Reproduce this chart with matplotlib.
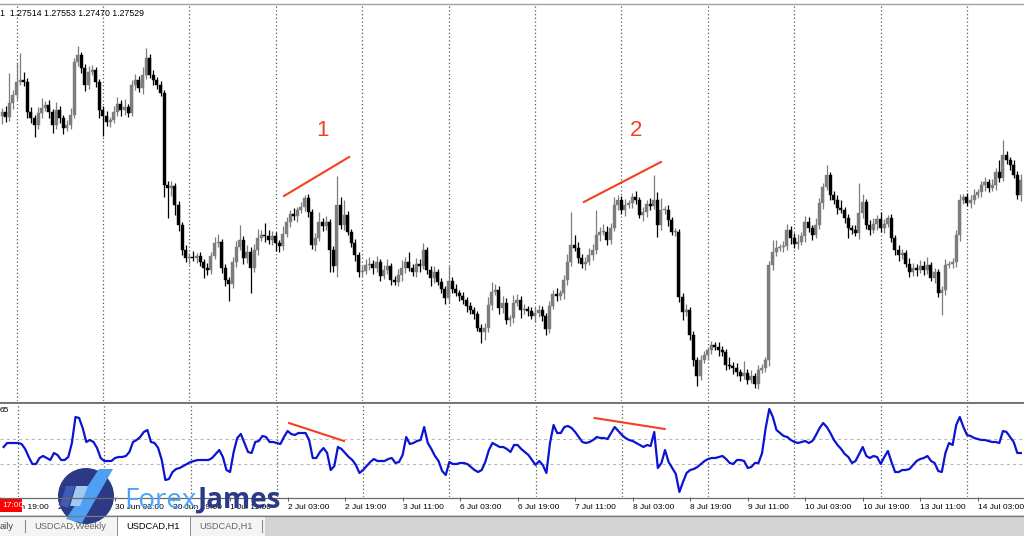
import numpy as np
import matplotlib
matplotlib.use("Agg")
import matplotlib.pyplot as plt
from matplotlib.patches import Circle, Polygon, Rectangle

W, H = 1024, 536
FIRST_BAR = -4          # bar 0 = 29 Jun 00:00, one bar per hour, no weekend bars
BASE = 1.2400           # prices are kept as pips above BASE

# ---- USDCAD H1 closes (pips above 1.2400), bar -4 .. 279
close_pips = [
    288, 283, 297, 305, 318, 320, 318, 288, 282, 275,
    287, 292, 295, 288, 275, 290, 282, 272, 275, 285,
    338, 345, 332, 315, 328, 330, 318, 290, 284, 278,
    280, 288, 296, 290, 293, 287, 315, 320, 312, 325,
    342, 325, 320, 315, 307, 215, 212, 214, 195, 175,
    150, 142, 143, 142, 144, 138, 132, 130, 144, 157,
    158, 132, 120, 116, 138, 153, 160, 142, 148, 132,
    150, 162, 165, 164, 160, 164, 157, 154, 166, 178,
    186, 184, 190, 193, 202, 188, 155, 162, 178, 174,
    178, 150, 134, 195, 175, 185, 168, 157, 145, 128,
    129, 135, 136, 132, 138, 124, 130, 134, 120, 118,
    125, 132, 138, 132, 128, 136, 134, 150, 130, 122,
    128, 118, 111, 102, 119, 111, 107, 104, 100, 94,
    90, 86, 72, 68, 72, 95, 108, 110, 92, 97,
    80, 82, 97, 100, 90, 91, 89, 84, 87, 90,
    84, 71, 94, 106, 104, 107, 120, 138, 155, 152,
    142, 136, 138, 145, 150, 165, 168, 168, 160, 172,
    195, 200, 190, 195, 197, 203, 200, 185, 188, 196,
    194, 200, 175, 190, 190, 180, 168, 168, 103, 88,
    90, 65, 40, 24, 40, 45, 50, 55, 53, 50,
    48, 35, 34, 32, 28, 24, 27, 20, 24, 16,
    30, 32, 40, 135, 148, 152, 153, 154, 170, 162,
    156, 158, 164, 178, 172, 165, 175, 197, 213, 225,
    205, 200, 192, 190, 182, 172, 170, 167, 187, 198,
    175, 170, 176, 181, 172, 176, 182, 162, 150, 145,
    147, 136, 128, 132, 130, 134, 130, 135, 122, 128,
    107, 110, 135, 136, 138, 165, 200, 203, 197, 200,
    205, 208, 215, 218, 212, 215, 228, 222, 245, 240,
    235, 225, 205, 220,
]
first_open_pips = 284

# wick length above / below the body, pips
wick_up = [
    4, 6, 30, 5, 19, 27, 8, 4, 5, 3,
    6, 10, 4, 5, 3, 8, 4, 3, 5, 7,
    4, 9, 3, 4, 6, 5, 3, 3, 4, 5,
    3, 6, 7, 4, 8, 3, 5, 6, 4, 8,
    10, 4, 5, 3, 4, 3, 4, 5, 3, 4,
    3, 5, 4, 6, 3, 4, 3, 5, 4, 6,
    8, 3, 4, 3, 5, 6, 15, 4, 7, 5,
    6, 9, 5, 12, 6, 5, 4, 3, 8, 5,
    4, 6, 3, 5, 3, 4, 3, 5, 10, 4,
    6, 3, 4, 29, 8, 15, 4, 3, 4, 3,
    5, 6, 7, 4, 6, 3, 5, 7, 3, 4,
    6, 8, 5, 10, 4, 6, 5, 7, 3, 4,
    6, 3, 4, 3, 15, 4, 5, 3, 4, 3,
    4, 3, 3, 4, 5, 8, 10, 6, 4, 7,
    5, 3, 8, 6, 4, 5, 3, 4, 6, 5,
    4, 3, 5, 4, 6, 3, 5, 8, 33, 10,
    6, 4, 5, 7, 6, 25, 5, 8, 6, 5,
    8, 5, 4, 6, 3, 4, 6, 3, 5, 4,
    6, 25, 8, 12, 4, 5, 3, 4, 3, 4,
    6, 3, 4, 3, 5, 4, 3, 4, 3, 5,
    4, 3, 8, 4, 5, 3, 12, 4, 6, 3,
    5, 4, 3, 4, 12, 8, 3, 5, 6, 4,
    5, 8, 4, 6, 5, 3, 7, 5, 4, 10,
    3, 4, 5, 8, 3, 4, 3, 5, 30, 8,
    3, 5, 6, 4, 7, 5, 3, 4, 3, 5,
    4, 3, 6, 5, 4, 6, 5, 8, 3, 4,
    3, 4, 6, 3, 4, 5, 6, 3, 4, 5,
    6, 3, 4, 5, 3, 6, 4, 12, 15, 4,
    3, 5, 4, 6,
]
wick_dn = [
    8, 5, 4, 6, 5, 3, 4, 6, 5, 12,
    4, 5, 3, 6, 8, 4, 5, 6, 3, 4,
    3, 4, 5, 6, 4, 3, 5, 8, 20, 4,
    5, 3, 4, 6, 5, 4, 3, 5, 4, 6,
    4, 3, 5, 4, 3, 12, 30, 8, 10, 6,
    5, 4, 6, 3, 5, 4, 10, 5, 4, 3,
    4, 5, 6, 17, 4, 5, 3, 6, 5, 25,
    4, 5, 3, 6, 4, 5, 8, 6, 4, 3,
    5, 4, 6, 3, 4, 5, 4, 6, 3, 5,
    4, 22, 6, 11, 4, 5, 3, 4, 6, 5,
    4, 3, 5, 6, 4, 5, 3, 4, 5, 3,
    4, 6, 5, 3, 4, 5, 6, 3, 4, 8,
    5, 3, 4, 6, 5, 4, 3, 5, 4, 6,
    4, 5, 3, 11, 8, 4, 5, 3, 6, 5,
    4, 6, 5, 3, 8, 4, 5, 3, 6, 4,
    5, 6, 4, 3, 5, 4, 6, 5, 4, 3,
    5, 4, 6, 3, 5, 4, 6, 3, 5, 4,
    3, 5, 4, 6, 3, 5, 4, 3, 6, 5,
    4, 3, 12, 5, 4, 6, 3, 4, 5, 8,
    4, 5, 6, 10, 4, 3, 5, 4, 3, 6,
    4, 5, 3, 6, 4, 5, 3, 4, 3, 4,
    5, 3, 4, 6, 5, 4, 3, 5, 4, 6,
    4, 5, 3, 6, 4, 5, 3, 4, 6, 3,
    5, 4, 6, 3, 5, 10, 4, 3, 6, 5,
    4, 5, 3, 6, 4, 5, 3, 4, 5, 6,
    4, 3, 5, 4, 6, 3, 5, 4, 3, 5,
    4, 22, 5, 3, 4, 5, 6, 4, 3, 5,
    4, 3, 5, 6, 4, 3, 5, 4, 3, 4,
    5, 3, 4, 6,
]

# ---- oscillator in the lower window
osc = [
    53.6, 56.8, 56.8, 56.8, 56.8, 56.0, 52.0, 45.6, 40.0, 40.0,
    44.8, 46.4, 44.8, 43.2, 48.8, 47.2, 43.2, 43.2, 45.6, 56.8,
    77.6, 76.8, 68.8, 57.6, 59.2, 57.6, 52.8, 44.8, 42.4, 42.4,
    42.4, 44.8, 45.6, 45.6, 46.4, 49.6, 57.6, 59.2, 61.6, 65.6,
    67.2, 57.6, 56.8, 52.8, 43.2, 27.2, 28.0, 33.6, 36.0, 36.8,
    38.4, 40.0, 41.6, 42.4, 43.2, 43.2, 43.2, 43.2, 44.8, 48.0,
    51.2, 45.6, 35.2, 33.6, 49.6, 60.8, 64.0, 56.8, 49.6, 48.8,
    57.6, 58.4, 62.4, 61.6, 57.6, 57.6, 56.8, 56.0, 61.6, 66.4,
    64.0, 63.2, 64.8, 64.8, 64.8, 59.2, 44.8, 44.8, 49.6, 52.8,
    48.8, 35.2, 38.4, 53.6, 52.0, 48.8, 45.6, 43.2, 39.2, 32.8,
    35.2, 38.4, 41.6, 44.0, 42.4, 42.4, 42.4, 44.0, 44.8, 40.8,
    41.6, 47.2, 61.6, 56.0, 56.8, 58.4, 59.2, 69.6, 56.8, 52.0,
    46.4, 42.4, 34.4, 31.2, 41.6, 40.0, 40.0, 40.8, 40.8, 40.0,
    37.6, 35.2, 33.6, 35.2, 41.6, 51.2, 56.8, 55.2, 53.6, 53.6,
    52.0, 49.6, 55.2, 55.2, 52.0, 49.6, 47.2, 43.2, 39.2, 42.4,
    39.2, 32.8, 56.8, 71.2, 64.8, 64.8, 69.6, 70.4, 68.8, 65.6,
    61.6, 57.6, 56.8, 57.6, 59.2, 61.6, 60.8, 60.8, 60.0, 64.8,
    69.6, 66.4, 63.2, 60.8, 59.2, 58.4, 56.8, 55.2, 53.6, 55.2,
    54.4, 65.6, 36.8, 40.8, 51.2, 41.6, 36.8, 32.0, 17.6, 25.6,
    32.8, 35.2, 36.0, 37.6, 40.0, 42.4, 44.0, 44.8, 44.8, 45.6,
    46.4, 44.0, 40.8, 40.0, 43.2, 43.2, 42.4, 36.8, 37.6, 40.8,
    40.8, 48.8, 68.8, 84.0, 77.6, 67.2, 64.8, 62.4, 61.6, 59.2,
    57.6, 56.8, 57.6, 58.4, 56.8, 58.4, 63.2, 68.8, 72.8, 69.6,
    64.8, 59.2, 55.2, 52.0, 48.0, 45.6, 40.8, 42.4, 48.0, 53.6,
    46.4, 44.8, 46.4, 45.6, 40.0, 45.6, 50.4, 41.6, 33.6, 33.6,
    35.2, 35.2, 36.0, 39.2, 42.4, 44.0, 44.8, 46.4, 42.4, 40.8,
    34.4, 33.6, 48.8, 56.8, 55.2, 71.2, 77.6, 69.6, 63.2, 62.4,
    60.8, 60.0, 59.2, 59.2, 58.4, 57.6, 57.6, 56.8, 66.4, 65.6,
    61.6, 57.6, 48.8, 48.8,
]
osc_levels = [60, 40]

# time axis
tick_bars = [-5, 11, 27, 43, 59, 75, 91, 107, 123, 139, 155, 171, 187, 203, 219, 235, 251, 267]
tick_labels = ["26 Jun 19:00", "29 Jun 11:00", "30 Jun 03:00", "30 Jun 19:00", "1 Jul 11:00",
               "2 Jul 03:00", "2 Jul 19:00", "3 Jul 11:00", "6 Jul 03:00", "6 Jul 19:00",
               "7 Jul 11:00", "8 Jul 03:00", "8 Jul 19:00", "9 Jul 11:00", "10 Jul 03:00",
               "10 Jul 19:00", "13 Jul 11:00", "14 Jul 03:00"]
day_bars = [0, 24, 48, 72, 96, 120, 144, 168, 192, 216, 240, 264]

# divergence marks: (bar, pips) pairs on price, (bar, value) on oscillator
price_marks = [((74.3, 204), (92.4, 243), "1", (84.9, 270)),
               ((157.6, 198), (179.0, 238), "2", (172.1, 269))]
osc_marks = [((75.4, 72.8), (90.7, 58.4)),
             ((160.4, 76.8), (179.9, 68.0))]

ohlc_text = "1  1.27514 1.27553 1.27470 1.27529"
tabs = ["aily", "USDCAD,Weekly", "USDCAD,H1", "USDCAD,H1"]

RED = "#f5401f"
BLUE = "#0a14d2"
GRID = "#555555"


def px_rect(left, top, w, h):
    return [left / W, 1 - (top + h) / H, w / W, h / H]


closes = BASE + np.array(close_pips) * 1e-4
opens = BASE + np.r_[first_open_pips, close_pips[:-1]] * 1e-4
highs = np.maximum(opens, closes) + np.array(wick_up) * 1e-4
lows = np.minimum(opens, closes) - np.array(wick_dn) * 1e-4
bars = np.arange(FIRST_BAR, FIRST_BAR + len(close_pips))
xlim = (-16.5 / 3.6, (W - 16.5) / 3.6)

fig = plt.figure(figsize=(W / 100, H / 100), dpi=100)
fig.patch.set_facecolor("white")

# ---- price window
ax = fig.add_axes(px_rect(0, 5, W, 396))
ax.set_xlim(*xlim)
ax.set_ylim(BASE - 0.0001, BASE + 0.0395)
bull = closes >= opens
for mask, col in [(bull, "#7d7d7d"), (~bull, "#000000")]:
    ax.vlines(bars[mask], lows[mask], highs[mask], color=col, lw=0.9, zorder=3)
    body = np.maximum(np.abs(closes - opens)[mask], 0.0001)
    ax.bar(bars[mask], body, bottom=np.minimum(opens, closes)[mask], width=0.78,
           color=col, edgecolor=col, linewidth=0.3, zorder=4)
for b in day_bars:
    ax.axvline(b, color=GRID, lw=0.9, ls=(0, (1, 2)), zorder=1)
for p0, p1, lab, lp in price_marks:
    ax.plot([p0[0], p1[0]], [BASE + p0[1] * 1e-4, BASE + p1[1] * 1e-4], color=RED, lw=1.5, zorder=5)
    ax.text(lp[0], BASE + lp[1] * 1e-4, lab, color=RED, fontsize=16, ha="center", va="center",
            family="Liberation Sans")
ax.axis("off")

# ---- oscillator window
ax2 = fig.add_axes(px_rect(0, 405, W, 92))
ax2.set_xlim(*xlim)
ax2.set_ylim(13.6, 87.2)
for lv in osc_levels:
    ax2.axhline(lv, color="#b8b8b8", lw=0.75, ls=(0, (3, 3)), zorder=1)
for b in day_bars:
    ax2.axvline(b, color=GRID, lw=0.9, ls=(0, (1, 2)), zorder=1)
ax2.plot(bars, osc, color=BLUE, lw=1.6, zorder=3)
for p0, p1 in osc_marks:
    ax2.plot([p0[0], p1[0]], [p0[1], p1[1]], color=RED, lw=1.5, zorder=4)
for s in ax2.spines.values():
    s.set_visible(False)
ax2.set_yticks([])
ax2.set_xticks(tick_bars)
ax2.set_xticklabels(tick_labels, ha="left", fontsize=6, family="Liberation Sans")
ax2.tick_params(axis="x", length=3, width=0.7, color="#555555", pad=2)

# ---- window chrome, drawn in pixel units
ov = fig.add_axes([0, 0, 1, 1], zorder=10)
ov.set_xlim(0, W)
ov.set_ylim(H, 0)
ov.axis("off")
ov.patch.set_alpha(0)
ov.plot([0, W], [3.5, 3.5], color="#a0a0a0", lw=1)
ov.plot([0, W], [401.5, 401.5], color="#cfcfcf", lw=0.8)
ov.plot([0, W], [403.2, 403.2], color="#6a6a6a", lw=1.3)
ov.plot([0, W], [497.5, 497.5], color="#6a6a6a", lw=0.9)
ov.add_patch(Rectangle((0, 515), W, 21, color="#d4d4d4", lw=0))
ov.plot([0, W], [515.5, 515.5], color="#7a7a7a", lw=0.9)
ov.add_patch(Rectangle((0, 516.5), 265, 19.5, color="#f4f4f4", lw=0))
ov.add_patch(Rectangle((117, 515.5), 73, 20.5, facecolor="white", edgecolor="#8a8a8a", lw=0.7))
for sx in (25, 262):
    ov.plot([sx, sx], [520, 532], color="#8a8a8a", lw=0.8)
for tx, t, c in zip((0, 34, 126, 199), tabs, ("#444444", "#666666", "#000000", "#666666")):
    ov.text(tx, 526.5, t, fontsize=6.7, color=c, va="center", family="Liberation Sans")

ov.text(0, 13, ohlc_text, fontsize=6.3, va="center", family="Liberation Sans")
ov.text(0, 411, "65", fontsize=6, va="center", family="Liberation Sans")

# crosshair time box
ov.add_patch(Rectangle((0, 499), 22, 13, color="#ff0000", lw=0))
ov.text(2, 505.5, "17:00", fontsize=6, color="white", va="center", family="Liberation Sans")

# ForexJames watermark
ov.add_patch(Circle((86, 496), 28, color="#2c3a86", lw=0))
ov.add_patch(Polygon([(99, 469), (113, 469), (82, 523), (66, 519)], closed=True, color="#4f9ff2", lw=0))
ov.add_patch(Polygon([(76, 486), (88, 486), (80, 506), (70, 506)], closed=True, color="#9fc8f2", lw=0))
ov.add_patch(Polygon([(66, 486), (75, 486), (68, 508), (60, 505)], closed=True, color="#3f5cb5", lw=0))
ov.text(124, 508, "Forex", fontsize=20, color="#4fa3f7", family="Open Sans", va="baseline")
ov.text(197, 508, "James", fontsize=20, color="#2c3a86", family="Open Sans", weight="bold", va="baseline")

fig.savefig("out.png", dpi=100)
